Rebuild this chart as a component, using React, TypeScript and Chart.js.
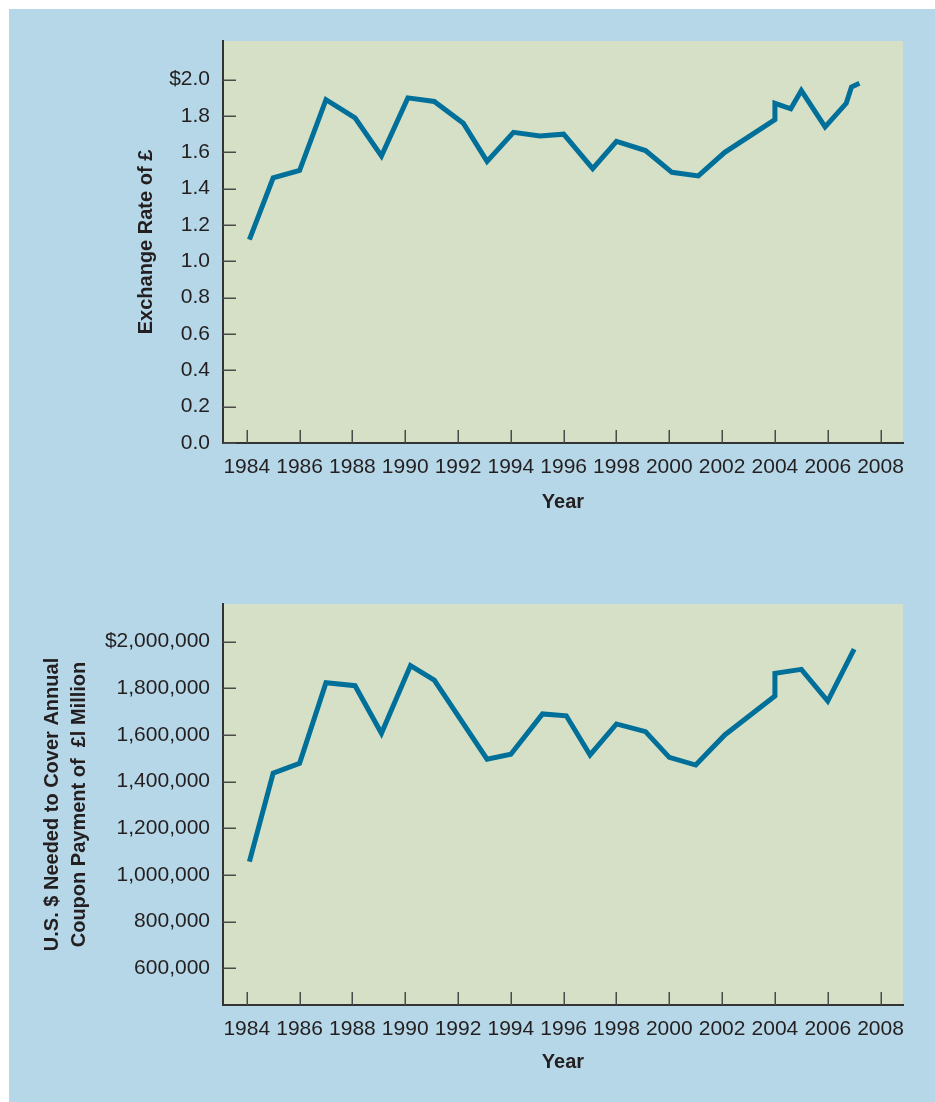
import { useEffect, useRef } from 'react';
import { Chart, registerables } from 'chart.js';

Chart.register(...registerables);

// ---- Data ----
const yearTicks = [1984, 1986, 1988, 1990, 1992, 1994, 1996, 1998, 2000, 2002, 2004, 2006, 2008];

const rateYears = [1984.1, 1985, 1986, 1987, 1988.1, 1989.1, 1990.1, 1991.1, 1992.2, 1993.1, 1994.1, 1995.1, 1996, 1997.1, 1998, 1999.1, 2000.1, 2001.1, 2002.1, 2004, 2004, 2004.6, 2005, 2005.9, 2006.7, 2006.9, 2007.2];
const rates = [1.12, 1.46, 1.5, 1.89, 1.79, 1.58, 1.9, 1.88, 1.76, 1.55, 1.71, 1.69, 1.7, 1.51, 1.66, 1.61, 1.49, 1.47, 1.6, 1.78, 1.87, 1.84, 1.94, 1.74, 1.87, 1.96, 1.98];
const rateTicks = [0, 0.2, 0.4, 0.6, 0.8, 1.0, 1.2, 1.4, 1.6, 1.8, 2.0];

const payYears = [1984.1, 1985, 1986, 1987, 1988.1, 1989.1, 1990.2, 1991.1, 1993.1, 1994, 1995.2, 1996.1, 1997, 1998, 1999.1, 2000, 2001, 2002.1, 2004, 2004, 2005, 2006, 2007];
const payments = [1057000, 1436000, 1478000, 1824000, 1811000, 1607000, 1897000, 1835000, 1496000, 1517000, 1690000, 1682000, 1514000, 1647000, 1614000, 1504000, 1471000, 1600000, 1767000, 1864000, 1881000, 1745000, 1968000];
const payTicks = [600000, 800000, 1000000, 1200000, 1400000, 1600000, 1800000, 2000000];

// ---- Styles ----
const PAGE_BG = '#ffffff';
const PANEL_BG = '#b6d7e7';
const PLOT_BG = '#d6e0c6';
const LINE = '#00709a';
const AXIS = '#333333';
const TEXT = '#231f20';
const FONT = "'Liberation Sans', Arial, sans-serif";

const innerPlugin = {
  id: 'innerTicks',
  beforeDraw(chart: any) {
    const { ctx, chartArea: a } = chart;
    ctx.save();
    ctx.fillStyle = PLOT_BG;
    ctx.fillRect(a.left, a.top, a.right - a.left, a.bottom - a.top);
    ctx.restore();
  },
  beforeDatasetsDraw(chart: any) {
    const { ctx, chartArea: a, scales } = chart;
    ctx.save();
    ctx.strokeStyle = '#4a4a4a';
    ctx.lineWidth = 1.5;
    ctx.beginPath();
    scales.x.ticks.forEach((t: any) => {
      const px = Math.round(scales.x.getPixelForValue(t.value)) + 0.25;
      ctx.moveTo(px, a.bottom);
      ctx.lineTo(px, a.bottom - 13);
    });
    scales.y.ticks.forEach((t: any) => {
      const py = Math.round(scales.y.getPixelForValue(t.value)) + 0.25;
      ctx.moveTo(a.left, py);
      ctx.lineTo(a.left + 13, py);
    });
    ctx.stroke();
    ctx.restore();
  },
};

function makeConfig(p: {
  xs: number[];
  ys: number[];
  yMin: number;
  yMax: number;
  yTicks: number[];
  yLabel: (v: number) => string;
  yTitle: string | string[];
  yTitlePad: number;
  yTitleLineHeight: number;
  padTop: number;
  xTitlePad: number;
}) {
  return {
    type: 'scatter' as const,
    data: {
      datasets: [
        {
          data: p.xs.map((x, i) => ({ x, y: p.ys[i] })),
          showLine: true,
          borderColor: LINE,
          backgroundColor: LINE,
          borderWidth: 5,
          pointRadius: 0,
          pointHoverRadius: 0,
          tension: 0,
          borderJoinStyle: 'miter' as const,
          borderCapStyle: 'butt' as const,
        },
      ],
    },
    options: {
      responsive: false,
      animation: false as const,
      devicePixelRatio: 1,
      layout: { padding: { top: p.padTop, right: 32, left: 0, bottom: 0 } },
      plugins: { legend: { display: false }, tooltip: { enabled: false }, title: { display: false } },
      scales: {
        x: {
          type: 'linear' as const,
          min: 1983.1,
          max: 2008.85,
          afterBuildTicks: (s: any) => {
            s.ticks = yearTicks.map((v) => ({ value: v }));
          },
          afterFit: (s: any) => {
            s.height = 97;
          },
          grid: { display: true, drawOnChartArea: false, drawTicks: false },
          border: { display: true, color: AXIS, width: 2 },
          ticks: {
            autoSkip: false,
            maxRotation: 0,
            padding: 12,
            color: TEXT,
            font: { family: FONT, size: 21 },
            callback: (v: any) => String(v),
          },
          title: {
            display: true,
            text: 'Year',
            color: TEXT,
            font: { family: FONT, size: 20, weight: 'bold' as const, lineHeight: 1.2 },
            padding: { top: 0, bottom: p.xTitlePad },
          },
        },
        y: {
          type: 'linear' as const,
          min: p.yMin,
          max: p.yMax,
          afterBuildTicks: (s: any) => {
            s.ticks = p.yTicks.map((v) => ({ value: v }));
          },
          afterFit: (s: any) => {
            s.width = 223;
          },
          grid: { display: true, drawOnChartArea: false, drawTicks: false },
          border: { display: true, color: AXIS, width: 2 },
          ticks: {
            autoSkip: false,
            padding: 13,
            color: TEXT,
            font: { family: FONT, size: 21 },
            callback: (v: any) => p.yLabel(Number(v)),
          },
          title: {
            display: true,
            text: p.yTitle,
            color: TEXT,
            font: { family: FONT, size: 20, weight: 'bold' as const, lineHeight: p.yTitleLineHeight },
            padding: { top: p.yTitlePad, bottom: 0 },
          },
        },
      },
    },
    plugins: [innerPlugin],
  };
}

export default function App() {
  const topRef = useRef<HTMLCanvasElement>(null);
  const botRef = useRef<HTMLCanvasElement>(null);

  useEffect(() => {
    const c1 = new Chart(
      topRef.current as HTMLCanvasElement,
      makeConfig({
        xs: rateYears,
        ys: rates,
        yMin: 0,
        yMax: 2.213,
        yTicks: rateTicks,
        yLabel: (v) => (v === 2 ? '$2.0' : v.toFixed(1)),
        yTitle: 'Exchange Rate of £',
        yTitlePad: 134.7,
        yTitleLineHeight: 1.2,
        padTop: 41,
        xTitlePad: 26,
      }) as any
    );
    const c2 = new Chart(
      botRef.current as HTMLCanvasElement,
      makeConfig({
        xs: payYears,
        ys: payments,
        yMin: 442700,
        yMax: 2161000,
        yTicks: payTicks,
        yLabel: (v) => (v === 2000000 ? '$' : '') + v.toLocaleString('en-US'),
        yTitle: ['U.S. $ Needed to Cover Annual', 'Coupon Payment of  £l Million'],
        yTitlePad: 39.2,
        yTitleLineHeight: 1.33,
        padTop: 44,
        xTitlePad: 28,
      }) as any
    );
    return () => {
      c1.destroy();
      c2.destroy();
    };
  }, []);

  return (
    <div style={{ position: 'absolute', left: 0, top: 0, width: 935, height: 1102, background: PAGE_BG, overflow: 'hidden' }}>
      <div style={{ position: 'absolute', left: 9, top: 9, width: 926, height: 1093, background: PANEL_BG }} />
      <canvas ref={topRef} width={935} height={540} style={{ position: 'absolute', left: 0, top: 0, display: 'block' }} />
      <canvas ref={botRef} width={935} height={542} style={{ position: 'absolute', left: 0, top: 560, display: 'block' }} />
    </div>
  );
}
